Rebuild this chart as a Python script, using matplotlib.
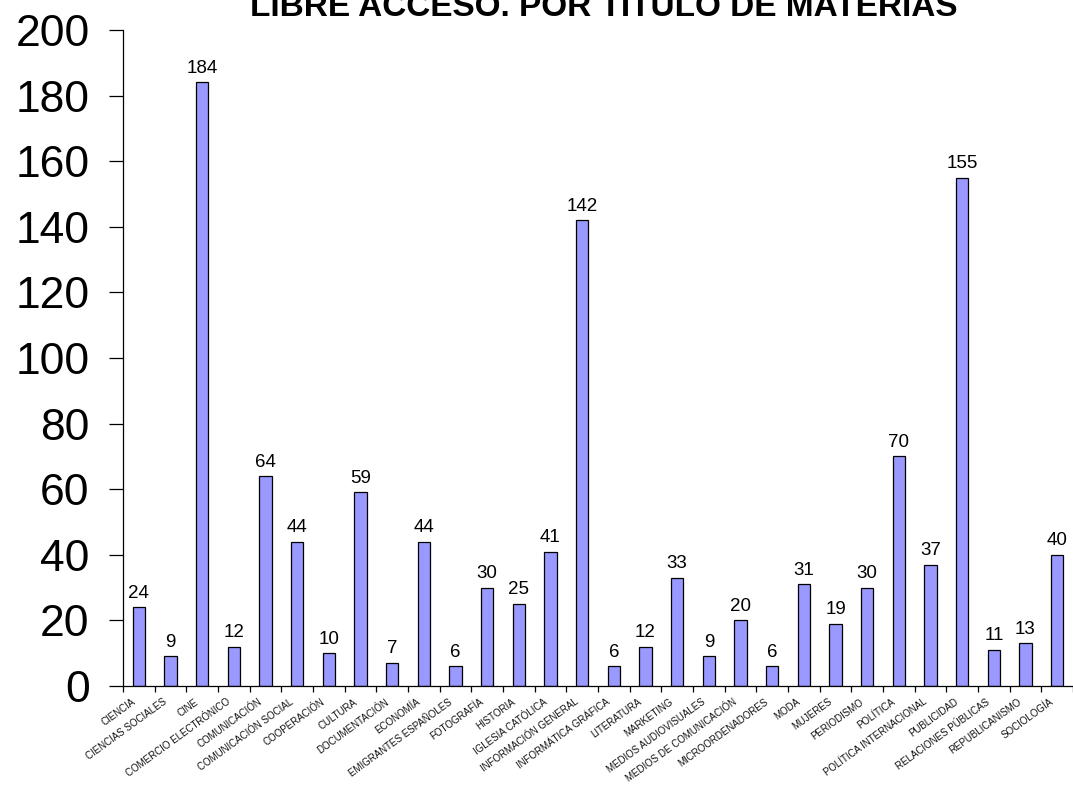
import matplotlib
matplotlib.use("Agg")
import matplotlib.pyplot as plt
import numpy as np

categories = ["CIENCIA", "CIENCIAS SOCIALES", "CINE", "COMERCIO ELECTRÓNICO",
              "COMUNICACIÓN", "COMUNICACIÓN SOCIAL", "COOPERACIÓN", "CULTURA",
              "DOCUMENTACIÓN", "ECONOMÍA", "EMIGRANTES ESPAÑOLES", "FOTOGRAFÍA",
              "HISTORIA", "IGLESIA CATÓLICA", "INFORMACIÓN GENERAL",
              "INFORMÁTICA GRÁFICA", "LITERATURA", "MARKETING",
              "MEDIOS AUDIOVISUALES", "MEDIOS DE COMUNICACIÓN", "MICROORDENADORES",
              "MODA", "MUJERES", "PERIODISMO", "POLÍTICA", "POLÍTICA INTERNACIONAL",
              "PUBLICIDAD", "RELACIONES PÚBLICAS", "REPUBLICANISMO", "SOCIOLOGÍA"]
values = [24, 9, 184, 12, 64, 44, 10, 59, 7, 44, 6, 30, 25, 41, 142, 6, 12, 33,
          9, 20, 6, 31, 19, 30, 70, 37, 155, 11, 13, 40]
yticks = [0, 20, 40, 60, 80, 100, 120, 140, 160, 180, 200]
title = "LIBRE ACCESO. POR TÍTULO DE MATERIAS"

plt.rcParams['font.family'] = ['Liberation Sans', 'DejaVu Sans']

fig = plt.figure(figsize=(10.73, 7.85), dpi=100)
ax = fig.add_axes([123/1073, 1 - 686/785, 1 - 123/1073, (686 - 30)/785])

x = np.arange(len(categories))
bars = ax.bar(x, values, width=0.38, color="#9999FF", edgecolor="black", linewidth=0.9)
for xi, v in zip(x, values):
    ax.annotate(str(v), (xi, v), xytext=(0, 4), textcoords="offset points",
                ha="center", va="bottom", fontsize=13.5)

ax.set_xlim(-0.5, len(categories) - 0.5)
ax.set_ylim(0, 200)
ax.set_yticks(yticks)
ax.set_yticklabels([str(t) for t in yticks], fontsize=32)
ax.tick_params(axis="y", length=10, width=0.9, pad=14, direction="out")

ax.set_xticks(np.arange(len(categories) + 1) - 0.5, minor=False)
ax.set_xticklabels([])
ax.tick_params(axis="x", length=4, width=0.9, direction="out")
for xi, lab in zip(x, categories):
    ax.text(xi - 0.15, -4.5, lab, rotation=36, rotation_mode="anchor",
            ha="right", va="center", fontsize=7, color="#111111")

for s in ["top", "right"]:
    ax.spines[s].set_visible(False)
ax.spines["left"].set_linewidth(0.9)
ax.spines["bottom"].set_linewidth(0.9)

fig.text(0.5625, 1 - 16/785, title, ha="center", va="baseline", fontsize=24,
         fontweight="bold")

fig.savefig("out.png", dpi=100)
